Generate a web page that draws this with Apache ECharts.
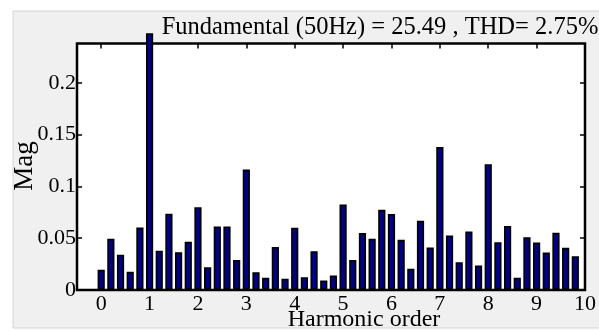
<!DOCTYPE html>
<html>
<head>
<meta charset="utf-8">
<script src="https://cdn.jsdelivr.net/npm/echarts@6/dist/echarts.min.js"></script>
<style>
  html, body { margin: 0; padding: 0; background: #ffffff; }
  #chart { width: 599px; height: 331px; }
</style>
</head>
<body>
<div id="chart"></div>
<script>
// Harmonic orders (50 Hz fundamental, 10 Hz resolution)
const harmonicOrder = [0, 0.2, 0.4, 0.6, 0.8, 1, 1.2, 1.4, 1.6, 1.8,
  2, 2.2, 2.4, 2.6, 2.8, 3, 3.2, 3.4, 3.6, 3.8,
  4, 4.2, 4.4, 4.6, 4.8, 5, 5.2, 5.4, 5.6, 5.8,
  6, 6.2, 6.4, 6.6, 6.8, 7, 7.2, 7.4, 7.6, 7.8,
  8, 8.2, 8.4, 8.6, 8.8, 9, 9.2, 9.4, 9.6, 9.8];
// Magnitudes
const magnitude = [0.0195, 0.0495, 0.034, 0.0176, 0.0604, 0.248, 0.038, 0.0736, 0.0365, 0.0466,
  0.080, 0.022, 0.0614, 0.0614, 0.029, 0.1164, 0.0172, 0.0118, 0.0414, 0.0108,
  0.060, 0.0124, 0.0375, 0.0092, 0.014, 0.0826, 0.029, 0.055, 0.0495, 0.0775,
  0.0733, 0.0485, 0.0205, 0.0669, 0.041, 0.138, 0.0527, 0.0269, 0.0565, 0.0237,
  0.1215, 0.0462, 0.0617, 0.0118, 0.051, 0.0459, 0.0362, 0.0553, 0.0408, 0.0327];
const xTicks = [0, 1, 2, 3, 4, 5, 6, 7, 8, 9, 10];
const yTicks = [0, 0.05, 0.1, 0.15, 0.2];
const titleText = 'Fundamental (50Hz) = 25.49 , THD= 2.75%';
const xName = 'Harmonic order';
const yName = 'Mag';

const FONT = '"Liberation Serif", "Times New Roman", serif';
const chart = echarts.init(document.getElementById('chart'), null, { renderer: 'canvas' });

const tickStyle = { show: true, inside: true, length: 5, lineStyle: { color: '#000', width: 1.5 } };
const hiddenLine = { show: false, onZero: false };

chart.setOption({
  animation: false,
  backgroundColor: '#ffffff',
  graphic: [
    { type: 'rect', z: -10, shape: { x: 13, y: 11, width: 600, height: 317 },
      style: { fill: '#f0f0f0', stroke: '#d4d4d4', lineWidth: 1 } },
    { type: 'text', z: 10, x: 380, y: 28,
      style: { text: titleText, font: '24.5px ' + FONT, fill: '#000', align: 'center', verticalAlign: 'middle' } },
    { type: 'text', z: 10, x: 364, y: 320,
      style: { text: xName, font: '24px ' + FONT, fill: '#000', align: 'center', verticalAlign: 'middle' } },
    { type: 'text', z: 10, x: 25, y: 166, rotation: Math.PI / 2,
      style: { text: yName, font: '27px ' + FONT, fill: '#000', align: 'center', verticalAlign: 'middle' } }
  ],
  grid: {
    left: 77, right: 6, top: 43.5, bottom: 41,
    show: true, backgroundColor: '#ffffff', borderColor: '#000', borderWidth: 2.5
  },
  xAxis: [
    {
      type: 'value', min: -0.5, max: 10, position: 'bottom',
      axisLine: hiddenLine,
      axisTick: Object.assign({ customValues: xTicks }, tickStyle),
      axisLabel: { customValues: xTicks, margin: 3, fontSize: 22, fontFamily: FONT, color: '#000', showMinLabel: true, showMaxLabel: true },
      splitLine: { show: false }
    },
    {
      type: 'value', min: -0.5, max: 10, position: 'top',
      axisLine: hiddenLine,
      axisTick: Object.assign({ customValues: xTicks }, tickStyle),
      axisLabel: { show: false },
      splitLine: { show: false }
    }
  ],
  yAxis: [
    {
      type: 'value', min: 0, max: 0.238, position: 'left',
      axisLine: hiddenLine,
      axisTick: Object.assign({ customValues: yTicks }, tickStyle),
      axisLabel: { customValues: yTicks, margin: 1, fontSize: 22, fontFamily: FONT, color: '#000',
        formatter: v => String(+v.toFixed(2)) },
      splitLine: { show: false }
    },
    {
      type: 'value', min: 0, max: 0.238, position: 'right',
      axisLine: hiddenLine,
      axisTick: Object.assign({ customValues: yTicks }, tickStyle),
      axisLabel: { show: false },
      splitLine: { show: false }
    }
  ],
  series: [{
    type: 'bar',
    clip: false,
    xAxisIndex: 0, yAxisIndex: 0,
    barWidth: 7.2,
    z: 5,
    itemStyle: { color: '#000088', borderColor: '#000', borderWidth: 1.7 },
    data: harmonicOrder.map((h, i) => [h, magnitude[i]])
  }]
});
</script>
</body>
</html>
